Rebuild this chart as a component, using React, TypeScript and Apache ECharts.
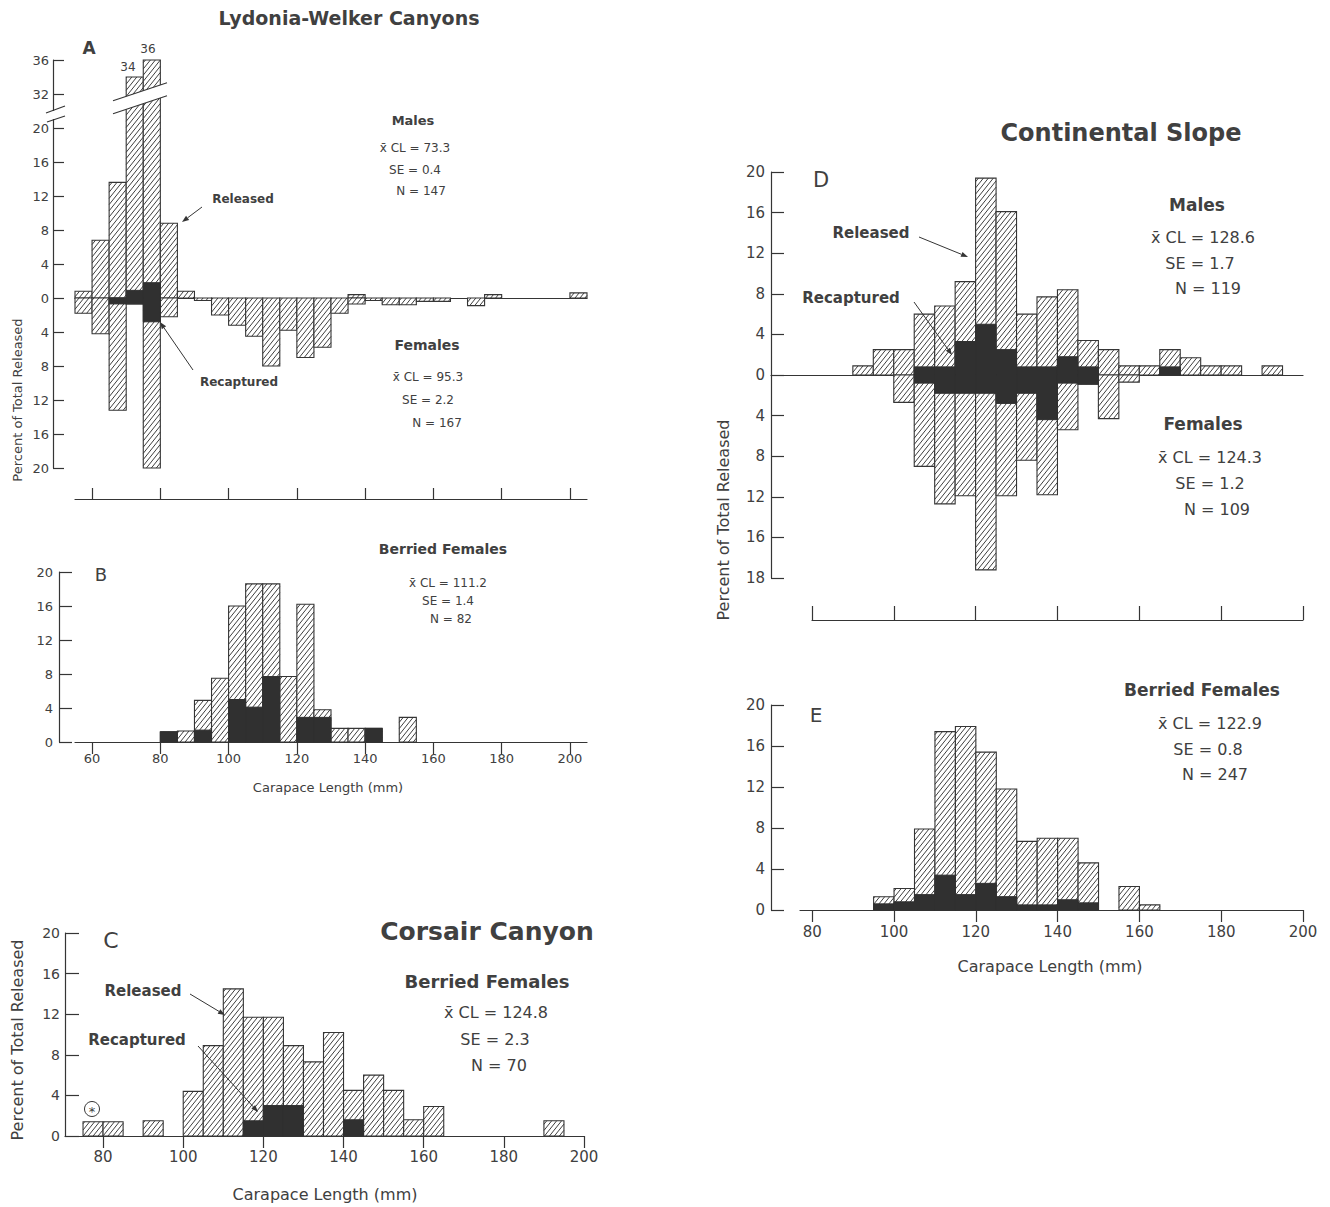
import React, { useEffect, useRef } from 'react';
import * as echarts from 'echarts';

type Bin = [number, number]; // [bin start (mm), percent of total released]
const BIN_WIDTH = 5;

// Panel A - Lydonia-Welker Canyons (males up, females down)
const aMaleReleased: Bin[] = [[55, 0.8], [60, 6.8], [65, 13.6], [70, 34], [75, 36], [80, 8.8], [85, 0.8], [135, 0.4], [175, 0.4], [200, 0.6]];
const aMaleRecaptured: Bin[] = [[70, 0.9], [75, 1.8]];
const aFemaleReleased: Bin[] = [[55, 1.8], [60, 4.2], [65, 13.2], [70, 0.7], [75, 20], [80, 2.2], [90, 0.3], [95, 2.0], [100, 3.2], [105, 4.5], [110, 8.0], [115, 3.8], [120, 7.0], [125, 5.8], [130, 1.8], [135, 0.7], [140, 0.3], [145, 0.8], [150, 0.8], [155, 0.4], [160, 0.4], [170, 0.9]];
const aFemaleRecaptured: Bin[] = [[65, 0.7], [70, 0.7], [75, 2.8]];

// Panel B - Lydonia-Welker berried females
const bReleased: Bin[] = [[80, 1.2], [85, 1.3], [90, 4.9], [95, 7.5], [100, 16], [105, 18.6], [110, 18.6], [115, 7.7], [120, 16.2], [125, 3.8], [130, 1.6], [135, 1.6], [140, 1.6], [150, 2.9]];
const bRecaptured: Bin[] = [[80, 1.2], [90, 1.4], [100, 5.0], [105, 4.1], [110, 7.7], [120, 2.9], [125, 2.9], [140, 1.6]];

// Panel C - Corsair Canyon berried females
const cReleased: Bin[] = [[75, 1.4], [80, 1.4], [90, 1.5], [100, 4.4], [105, 8.9], [110, 14.5], [115, 11.7], [120, 11.7], [125, 8.9], [130, 7.3], [135, 10.2], [140, 4.5], [145, 6.0], [150, 4.5], [155, 1.6], [160, 2.9], [190, 1.5]];
const cRecaptured: Bin[] = [[115, 1.5], [120, 3.0], [125, 3.0], [140, 1.6]];

// Panel D - Continental Slope (males up, females down)
const dMaleReleased: Bin[] = [[90, 0.9], [95, 2.5], [100, 2.5], [105, 6.0], [110, 6.8], [115, 9.2], [120, 19.4], [125, 16.1], [130, 6.0], [135, 7.7], [140, 8.4], [145, 3.4], [150, 2.5], [155, 0.9], [160, 0.9], [165, 2.5], [170, 1.7], [175, 0.9], [180, 0.9], [190, 0.9]];
const dMaleRecaptured: Bin[] = [[105, 0.8], [110, 0.8], [115, 3.3], [120, 5.0], [125, 2.5], [130, 0.8], [135, 0.8], [140, 1.8], [145, 0.8], [165, 0.8]];
const dFemaleReleased: Bin[] = [[100, 2.7], [105, 9.0], [110, 12.7], [115, 11.9], [120, 19.2], [125, 11.9], [130, 8.4], [135, 11.8], [140, 5.4], [145, 0.9], [150, 4.3], [155, 0.7]];
const dFemaleRecaptured: Bin[] = [[105, 0.8], [110, 1.8], [115, 1.8], [120, 1.8], [125, 2.8], [130, 1.8], [135, 4.4], [140, 0.8], [145, 0.9]];

// Panel E - Continental Slope berried females
const eReleased: Bin[] = [[95, 1.3], [100, 2.1], [105, 7.9], [110, 17.4], [115, 17.9], [120, 15.4], [125, 11.8], [130, 6.7], [135, 7.0], [140, 7.0], [145, 4.6], [155, 2.3], [160, 0.5]];
const eRecaptured: Bin[] = [[95, 0.6], [100, 0.8], [105, 1.5], [110, 3.4], [115, 1.5], [120, 2.6], [125, 1.3], [130, 0.5], [135, 0.5], [140, 1.0], [145, 0.7]];

const ticksAB = [60, 80, 100, 120, 140, 160, 180, 200];
const ticksCDE = [80, 100, 120, 140, 160, 180, 200];

const INK = '#353535';
const TXT = '#404040';
const DARK = '#303030';
const FONT = '"DejaVu Sans", "Liberation Sans", Arial, sans-serif';

// broken axis in panel A: 32 and 36 are drawn just above 20
const aPos = (v: number) => (v > 20 ? v - 8 : v);

function items(bins: Bin[], sign = 1, map = (v: number) => v) {
  return bins.map(([s, v]) => [s, s + BIN_WIDTH, sign * map(v)]);
}

function rectOf(api: any) {
  const a = api.coord([api.value(0), 0]);
  const b = api.coord([api.value(1), api.value(2)]);
  return {
    L: Math.min(a[0], b[0]), R: Math.max(a[0], b[0]),
    T: Math.min(a[1], b[1]), B: Math.max(a[1], b[1]),
  };
}

const SLOPE = 1.25;
const GAP = 6.2;
function hatchRender(_p: any, api: any) {
  const { L, R, T, B } = rectOf(api);
  const children: any[] = [
    { type: 'rect', shape: { x: L, y: T, width: R - L, height: B - T }, style: { fill: '#fff', stroke: INK, lineWidth: 1.1 } },
  ];
  const m = SLOPE;
  const cMin = T + m * L;
  const cMax = B + m * R;
  for (let c = Math.ceil(cMin / GAP) * GAP; c < cMax; c += GAP) {
    const lo = Math.max(L, (c - B) / m);
    const hi = Math.min(R, (c - T) / m);
    if (hi - lo > 0.3) {
      children.push({ type: 'line', shape: { x1: lo, y1: c - m * lo, x2: hi, y2: c - m * hi }, style: { stroke: INK, lineWidth: 0.95 } });
    }
  }
  return { type: 'group', children };
}

function solidRender(_p: any, api: any) {
  const { L, R, T, B } = rectOf(api);
  return { type: 'rect', shape: { x: L, y: T, width: R - L, height: B - T }, style: { fill: DARK, stroke: DARK, lineWidth: 1 } };
}

const hatch = (gi: number, data: any[]) => ({ type: 'custom', xAxisIndex: gi, yAxisIndex: gi, data, renderItem: hatchRender, silent: true, z: 2 });
const solid = (gi: number, data: any[]) => ({ type: 'custom', xAxisIndex: gi, yAxisIndex: gi, data, renderItem: solidRender, silent: true, z: 3 });

function txt(text: string, x: number, y: number, size: number, weight = 'normal', rotation = 0) {
  return {
    type: 'text', x, y, rotation, z: 20,
    style: {
      text, x: 0, y: 0, fill: TXT, fontSize: size, fontFamily: FONT, fontWeight: weight,
      textAlign: 'center', textVerticalAlign: 'middle', align: 'center', verticalAlign: 'middle',
    },
  };
}

function arrow(x1: number, y1: number, x2: number, y2: number) {
  const ang = Math.atan2(y2 - y1, x2 - x1);
  const head = 7;
  const hx = x2 - head * Math.cos(ang);
  const hy = y2 - head * Math.sin(ang);
  const w = 2.6;
  const px = -Math.sin(ang) * w;
  const py = Math.cos(ang) * w;
  return [
    { type: 'line', z: 20, shape: { x1, y1, x2: hx, y2: hy }, style: { stroke: INK, lineWidth: 1 } },
    { type: 'polygon', z: 20, shape: { points: [[x2, y2], [hx + px, hy + py], [hx - px, hy - py]] }, style: { fill: INK } },
  ];
}

const line = (x1: number, y1: number, x2: number, y2: number, w = 1.2) => ({ type: 'line', z: 20, shape: { x1, y1, x2, y2 }, style: { stroke: INK, lineWidth: w } });

const axisText = (size: number) => ({ color: TXT, fontSize: size, fontFamily: FONT });

function xBase(gi: number, min: number, max: number) {
  return {
    gridIndex: gi, type: 'value', min, max,
    axisLine: { show: true, onZero: true, lineStyle: { color: INK, width: 1.2 } },
    axisTick: { show: false }, axisLabel: { show: false }, splitLine: { show: false },
  };
}

function xTicked(gi: number, min: number, max: number, ticks: number[], inside: boolean, len: number, labelSize: number, margin: number) {
  return {
    gridIndex: gi, type: 'value', min, max, position: 'bottom',
    axisLine: { show: true, onZero: false, lineStyle: { color: INK, width: 1.2 } },
    axisTick: { show: true, inside, length: len, customValues: ticks, lineStyle: { color: INK, width: 1.2 } },
    axisLabel: labelSize > 0 ? { show: true, customValues: ticks, margin, ...axisText(labelSize) } : { show: false, customValues: ticks },
    splitLine: { show: false },
  };
}

function yAx(gi: number, min: number, max: number, offset: number, len: number, size: number, margin: number, formatter?: (v: number) => string) {
  return {
    gridIndex: gi, type: 'value', min, max, interval: 4, offset,
    axisLine: { show: true, onZero: false, lineStyle: { color: INK, width: 1.2 } },
    axisTick: { show: true, inside: true, length: len, lineStyle: { color: INK, width: 1.2 } },
    axisLabel: { show: true, margin, formatter, ...axisText(size) },
    splitLine: { show: false },
  };
}

const yHidden = (gi: number) => ({ gridIndex: gi, type: 'value', min: 0, max: 1, show: false });

function buildOption() {
  const graphics: any[] = [
    // titles
    txt('Lydonia-Welker Canyons', 349, 18, 19, 'bold'),
    txt('Continental Slope', 1121, 133, 24, 'bold'),
    txt('Corsair Canyon', 487, 931, 25, 'bold'),
    // panel letters
    txt('A', 89, 48, 17, 'bold'),
    txt('B', 101, 574, 18),
    txt('C', 111, 940, 22),
    txt('D', 821, 180, 21),
    txt('E', 816, 715, 20),
    // panel A
    txt('34', 128, 67, 12),
    txt('36', 148, 49, 12),
    txt('Males', 413, 120, 13, 'bold'),
    txt('x\u0304 CL = 73.3', 415, 148, 12),
    txt('SE = 0.4', 415, 170, 12),
    txt('N = 147', 421, 191, 12),
    txt('Females', 427, 345, 14, 'bold'),
    txt('x\u0304 CL = 95.3', 428, 377, 12),
    txt('SE = 2.2', 428, 400, 12),
    txt('N = 167', 437, 423, 12),
    txt('Released', 243, 199, 12, 'bold'),
    ...arrow(202, 207, 182, 222),
    txt('Recaptured', 239, 382, 12, 'bold'),
    ...arrow(193, 370, 160, 322),
    txt('Percent of Total Released', 17, 400, 13, 'normal', Math.PI / 2),
    // axis break in panel A
    { type: 'rect', z: 19, shape: { x: 49, y: 111, width: 8, height: 8 }, style: { fill: '#fff' } },
    line(46, 113, 65, 106),
    line(47, 122, 65, 116),
    { type: 'polygon', z: 19, shape: { points: [[113, 100.7], [167, 82.7], [167, 95.7], [113, 113.7]] }, style: { fill: '#fff' } },
    line(113, 100.7, 167, 82.7),
    line(113, 113.7, 167, 95.7),
    // panel B
    txt('Berried Females', 443, 549, 14, 'bold'),
    txt('x\u0304 CL = 111.2', 448, 583, 12),
    txt('SE = 1.4', 448, 601, 12),
    txt('N = 82', 451, 619, 12),
    txt('Carapace Length (mm)', 328, 787, 13),
    // panel C
    txt('Berried Females', 487, 981, 18, 'bold'),
    txt('x\u0304 CL = 124.8', 496, 1012, 16),
    txt('SE = 2.3', 495, 1039, 16),
    txt('N = 70', 499, 1065, 16),
    txt('Released', 143, 991, 15, 'bold'),
    ...arrow(190, 994, 225, 1015),
    txt('Recaptured', 137, 1040, 15, 'bold'),
    ...arrow(198, 1046, 258, 1112),
    txt('Percent of Total Released', 17, 1040, 16, 'normal', Math.PI / 2),
    txt('Carapace Length (mm)', 325, 1194, 16),
    { type: 'circle', z: 20, shape: { cx: 92, cy: 1109, r: 7.5 }, style: { fill: '#fff', stroke: INK, lineWidth: 1 } },
    txt('*', 92, 1111, 13),
    // panel D
    txt('Males', 1197, 205, 17, 'bold'),
    txt('x\u0304 CL = 128.6', 1203, 237, 16),
    txt('SE = 1.7', 1200, 263, 16),
    txt('N = 119', 1208, 288, 16),
    txt('Females', 1203, 424, 17, 'bold'),
    txt('x\u0304 CL = 124.3', 1210, 457, 16),
    txt('SE = 1.2', 1210, 483, 16),
    txt('N = 109', 1217, 509, 16),
    txt('Released', 871, 233, 15, 'bold'),
    ...arrow(919, 237, 968, 257),
    txt('Recaptured', 851, 298, 15, 'bold'),
    ...arrow(914, 302, 952, 355),
    txt('Percent of Total Released', 723, 520, 16, 'normal', Math.PI / 2),
    // panel E
    txt('Berried Females', 1202, 690, 17, 'bold'),
    txt('x\u0304 CL = 122.9', 1210, 723, 16),
    txt('SE = 0.8', 1208, 749, 16),
    txt('N = 247', 1215, 774, 16),
    txt('Carapace Length (mm)', 1050, 966, 16),
  ];

  return {
    animation: false,
    backgroundColor: '#fff',
    grid: [
      { left: 75, top: 60, width: 512, height: 408 },   // A
      { left: 75, top: 498, width: 512, height: 1 },    // A lower axis
      { left: 75, top: 572, width: 512, height: 170 },  // B
      { left: 65, top: 933, width: 519, height: 203 },  // C
      { left: 771, top: 172, width: 532, height: 406 }, // D
      { left: 812, top: 619, width: 491, height: 1 },   // D lower axis
      { left: 800, top: 705, width: 503, height: 205 }, // E
    ],
    xAxis: [
      xBase(0, 55, 205),
      xTicked(1, 55, 205, ticksAB, true, 11, 0, 0),
      xTicked(2, 55, 205, ticksAB, false, 12, 13, 10),
      xTicked(3, 70.5, 200, ticksCDE, false, 12, 15, 13),
      xBase(4, 70, 200),
      xTicked(5, 80, 200, ticksCDE, true, 14, 0, 0),
      xTicked(6, 77, 200, ticksCDE, false, 12, 15, 14),
    ],
    yAxis: [
      yAx(0, -20, 28, 22, 11, 13, 4, (v: number) => (v === 24 ? '32' : v === 28 ? '36' : String(Math.abs(v)))),
      yHidden(1),
      yAx(2, 0, 20, 16, 13, 13, 6),
      yAx(3, 0, 20, 0, 14, 14, 5),
      yAx(4, -20, 20, 0, 13, 15, 6, (v: number) => (v === -20 ? '18' : String(Math.abs(v)))),
      yHidden(5),
      yAx(6, 0, 20, 29, 13, 15, 6),
    ],
    series: [
      hatch(0, items(aMaleReleased, 1, aPos)),
      hatch(0, items(aFemaleReleased, -1)),
      solid(0, items(aMaleRecaptured, 1, aPos)),
      solid(0, items(aFemaleRecaptured, -1)),
      hatch(2, items(bReleased)),
      solid(2, items(bRecaptured)),
      hatch(3, items(cReleased)),
      solid(3, items(cRecaptured)),
      hatch(4, items(dMaleReleased)),
      hatch(4, items(dFemaleReleased, -1)),
      solid(4, items(dMaleRecaptured)),
      solid(4, items(dFemaleRecaptured, -1)),
      hatch(6, items(eReleased)),
      solid(6, items(eRecaptured)),
    ],
    graphic: { elements: graphics },
  };
}

export default function App() {
  const ref = useRef<HTMLDivElement>(null);
  useEffect(() => {
    const chart = echarts.init(ref.current!, undefined, { renderer: 'svg' });
    chart.setOption(buildOption() as any);
    return () => chart.dispose();
  }, []);
  return <div ref={ref} style={{ position: 'absolute', left: 0, top: 0, width: 1330, height: 1207, background: '#fff' }} />;
}
